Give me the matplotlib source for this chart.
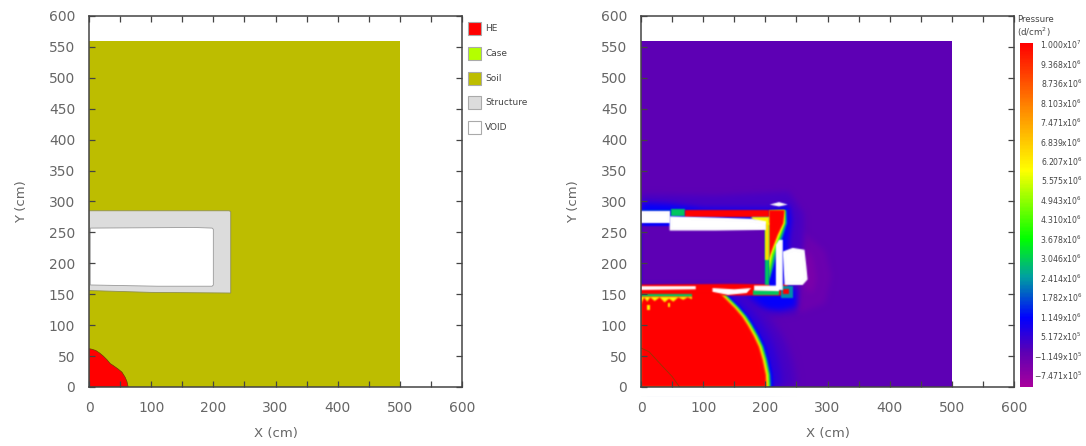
import matplotlib
matplotlib.use('Agg')
import matplotlib.pyplot as plt
import numpy as np
from matplotlib.colors import LinearSegmentedColormap, Normalize
from matplotlib.cm import ScalarMappable
from matplotlib.patches import Rectangle

W, H = 1086, 446

legend_names = ['HE', 'Case', 'Soil', 'Structure', 'VOID']
legend_colors = ['#ff0000', '#b4ff00', '#bdbd00', '#dcdcdc', '#ffffff']

domain_x = [0, 500, 500, 0]
domain_y = [0, 0, 560, 560]

# left panel, material outlines (cm)
struct_x = [0, 100, 228, 228, 226, 0]
struct_y = [156, 153, 152, 283, 285, 285]
void_x = [2, 110, 198, 200, 200, 198, 170, 2]
void_y = [165, 163, 163, 165, 255, 257, 258, 257]
he_x = [0, 5, 11, 17, 23, 29, 34, 40, 47, 53, 58, 61, 63, 0]
he_y = [62, 61, 59, 55, 50, 44, 38, 34, 29, 24, 16, 9, 0, 0]

# pressure colour scale
p_labels = ['1.000x10$^7$', '9.368x10$^6$', '8.736x10$^6$', '8.103x10$^6$', '7.471x10$^6$',
            '6.839x10$^6$', '6.207x10$^6$', '5.575x10$^6$', '4.943x10$^6$', '4.310x10$^6$',
            '3.678x10$^6$', '3.046x10$^6$', '2.414x10$^6$', '1.782x10$^6$', '1.149x10$^6$',
            '5.172x10$^5$', '\u22121.149x10$^5$', '\u22127.471x10$^5$']
p_min, p_max = -1.0e6, 1.0e7
cmap_stops = [(0.0, '#a8009c'), (0.1, '#5c00b4'), (0.2, '#0000ff'), (0.32, '#00a0a0'),
              (0.43, '#00ff00'), (0.63, '#ffff00'), (0.8, '#ff9000'), (1.0, '#ff0000')]

# right panel, shock front: x of each pressure level at front_y
background_p = 1.0e5
front_y = [0, 20, 44, 65, 82, 100, 114, 128, 141, 150, 158]
front_levels = [3.5e5, 7.0e5, 1.15e6, 2.4e6, 4.3e6, 6.0e6, 1.0e7]
front_x = [[250, 248, 243, 236, 228, 216, 206, 194, 180, 170, 160],
           [226, 225, 220, 214, 206, 195, 186, 174, 161, 152, 143],
           [213, 212, 207, 201, 193, 183, 174, 162, 149, 140, 131],
           [209, 208, 203, 197, 189, 179, 170, 158, 145, 136, 127],
           [207, 206, 201, 195, 187, 177, 168, 156, 143, 134, 125],
           [205, 204, 199, 193, 185, 175, 166, 154, 141, 132, 123],
           [202, 201, 196, 190, 182, 172, 163, 151, 138, 129, 120]]

# right panel, damaged structure: (pressure, xs, ys)
halo_regions = [
    (-1.0e5, [225, 255, 296, 306, 296, 255, 225], [250, 255, 220, 180, 135, 120, 150]),
    (-3.5e5, [262, 276, 282, 276, 262], [228, 208, 175, 152, 160]),
    (3.5e5, [0, 120, 238, 262, 262, 250, 150, 100, 0], [312, 310, 316, 280, 240, 118, 108, 149, 149]),
    (1.15e6, [0, 45, 100, 206, 238, 242, 238, 232, 250, 250, 225, 150, 0],
     [298, 296, 289, 288, 294, 270, 240, 160, 160, 130, 124, 130, 149]),
    (1.0e5, [2, 200, 200, 2], [167, 167, 260, 260]),
]
solid_regions = [
    (1.0e7, [0, 180, 236, 236, 150, 0], [148, 148, 148, 166, 167, 166]),
    (1.15e6, [206, 217, 228, 228, 206], [163, 157, 157, 240, 240]),
    (2.4e6, [206, 234, 235, 227, 216, 206], [285, 286, 265, 240, 205, 170]),
    (4.3e6, [206, 232, 232, 224, 213, 206], [285, 286, 265, 241, 210, 175]),
    (6.0e6, [206, 231, 231, 222, 211, 206], [285, 286, 265, 243, 215, 190]),
    (1.0e7, [206, 231, 229, 220, 212, 206], [286, 286, 265, 246, 225, 208]),
    (3.0e6, [200, 206, 206, 200], [165, 165, 262, 262]),
    (6.5e6, [200, 206, 206, 200], [205, 205, 265, 265]),
    (3.0e6, [48, 70, 70, 48], [277, 277, 288, 288]),
    (2.0e6, [0, 48, 48, 0], [284, 284, 287, 287]),
    (1.0e7, [70, 206, 206, 70], [275, 275, 286, 286]),
    (6.0e6, [178, 206, 206, 190, 178], [275, 275, 262, 266, 272]),
    (3.0e6, [180, 222, 222, 180], [149, 149, 157, 157]),
    (2.4e6, [225, 244, 244, 225], [144, 144, 163, 163]),
    (1.0e7, [228, 238, 238, 228], [150, 150, 158, 158]),
    (3.0e6, [0, 82, 82, 0], [145, 145, 150, 150]),
    (1.0e7, [0, 82, 82, 0], [136, 136, 146, 146]),
    (6.0e6, [0, 5, 10, 15, 22, 30, 38, 45, 52, 60, 68, 75, 82, 82, 0],
     [134, 145, 138, 145, 139, 145, 137, 143, 138, 145, 141, 145, 142, 146, 146]),
    (6.0e6, [10, 14, 14, 10], [125, 125, 133, 133]),
    (6.0e6, [44, 47, 47, 44], [130, 130, 136, 136]),
]
void_regions = [
    ([0, 46, 46, 0], [265, 265, 284, 284]),
    ([46, 120, 201, 201, 178, 120, 46], [253, 253, 254, 268, 272, 274, 276]),
    ([217, 228, 228, 222, 217], [157, 157, 238, 238, 230]),
    ([228, 244, 263, 266, 268, 260, 231], [219, 225, 222, 195, 174, 165, 165]),
    ([0, 88, 88, 0], [157, 158, 163, 163]),
    ([115, 150, 177, 170, 140, 115], [160, 158, 160, 152, 149, 154]),
    ([182, 222, 222, 182], [156, 155, 164, 164]),
    ([207, 222, 236, 222], [295, 292, 295, 299]),
]
he_line_x = [0, 13, 35, 50, 62]
he_line_y = [63, 57, 33, 17, 0]


def style_axes(ax):
    ax.set_xlim(0, 600)
    ax.set_ylim(0, 600)
    ax.set_xticks(range(0, 601, 50))
    ax.set_xticklabels([str(v) if v % 100 == 0 else '' for v in range(0, 601, 50)])
    ax.set_yticks(range(0, 601, 50))
    ax.tick_params(direction='in', length=4, width=0.9, top=True, right=True, color='#444444',
                   labelcolor='#666666', labelsize=10, pad=10)
    for s in ax.spines.values():
        s.set_color('#444444')
        s.set_linewidth(1.1)
    ax.set_xlabel('X (cm)', fontsize=9.5, color='#666666', labelpad=9)
    ax.set_ylabel('Y (cm)', fontsize=9.5, color='#666666', labelpad=15)


def pressure_color(p):
    return cmap(norm(p))


def soften(sigma):
    # the reference is a blurred scan, so feather the edge of one flat colour patch
    r = int(3 * sigma) + 1
    kernel = np.exp(-0.5 * (np.arange(-r, r + 1) / sigma) ** 2)
    kernel = kernel / kernel.sum()

    def apply(img, dpi):
        a = np.pad(img[:, :, 3], r)
        a = np.apply_along_axis(np.convolve, 0, a, kernel, mode='same')
        a = np.apply_along_axis(np.convolve, 1, a, kernel, mode='same')
        i, j = np.unravel_index(np.argmax(img[:, :, 3]), img[:, :, 3].shape)
        out = np.zeros(a.shape + (4,))
        out[:, :, :3] = img[i, j, :3]
        out[:, :, 3] = a
        return out, -r, -r
    return apply


cmap = LinearSegmentedColormap.from_list('pressure', cmap_stops)
norm = Normalize(p_min, p_max)

fig = plt.figure(figsize=(W / 100, H / 100), dpi=100)
ax1 = fig.add_axes([89 / W, 1 - 387 / H, 373 / W, 371 / H])
ax2 = fig.add_axes([641 / W, 1 - 387 / H, 373 / W, 371 / H])

# material plot
ax1.fill(domain_x, domain_y, color='#bdbd00', lw=0)
ax1.fill(struct_x, struct_y, facecolor='#dcdcdc', edgecolor='#8f8f50', lw=0.6)
ax1.fill(void_x, void_y, facecolor='white', edgecolor='#999999', lw=0.6)
ax1.fill(he_x, he_y, facecolor='#ff0000', edgecolor='#6b4000', lw=0.5)
style_axes(ax1)

for i, name in enumerate(legend_names):
    y0 = 22 + i * 24.8
    fig.add_artist(Rectangle((468 / W, 1 - (y0 + 13) / H), 13 / W, 13 / H, transform=fig.transFigure,
                             facecolor=legend_colors[i], edgecolor='#aaaaaa', lw=0.8))
    fig.text(485 / W, 1 - (y0 + 6.5) / H, name, fontsize=6.5, color='#444444', va='center')

# pressure plot
ax2.fill(domain_x, domain_y, color=pressure_color(background_p), lw=0)
for p, xs, ys in halo_regions:
    ax2.fill(xs, ys, color=pressure_color(p), lw=0, agg_filter=soften(3 if p != 1.0e5 else 0.8))
for p, xs in zip(front_levels, front_x):
    sigma = 4 if p < 1.0e6 else 1.0
    ax2.fill([0] + xs + [0], [0] + front_y + [front_y[-1]], color=pressure_color(p), lw=0,
             agg_filter=soften(sigma))
for p, xs, ys in solid_regions:
    ax2.fill(xs, ys, color=pressure_color(p), lw=0, agg_filter=soften(0.8))
for xs, ys in void_regions:
    ax2.fill(xs, ys, color='white', lw=0, agg_filter=soften(0.7))
ax2.plot(he_line_x, he_line_y, color='#a03000', lw=0.7)
# blurred patches are not clipped, mask what runs past the axes (under the tick labels)
ax2.add_patch(Rectangle((-20, -15), 20, 615, facecolor='white', lw=0, clip_on=False, zorder=1.2))
ax2.add_patch(Rectangle((-20, -15), 620, 15, facecolor='white', lw=0, clip_on=False, zorder=1.2))
style_axes(ax2)

# colour bar
cax = fig.add_axes([1020 / W, 1 - 387 / H, 13 / W, 344 / H])
cbar = fig.colorbar(ScalarMappable(norm=norm, cmap=cmap), cax=cax)
cbar.outline.set_visible(False)
cbar.set_ticks([])
for i, lab in enumerate(p_labels):
    py = 45 + i * (376 - 45) / (len(p_labels) - 1)
    fig.text(1082 / W, 1 - py / H, lab, fontsize=5.6, color='#444444', va='center', ha='right')
fig.text(1017 / W, 1 - 20 / H, 'Pressure', fontsize=6.2, color='#444444', va='center')
fig.text(1017 / W, 1 - 32 / H, '(d/cm$^2$)', fontsize=6.2, color='#444444', va='center')

plt.savefig('out.png', dpi=100)
